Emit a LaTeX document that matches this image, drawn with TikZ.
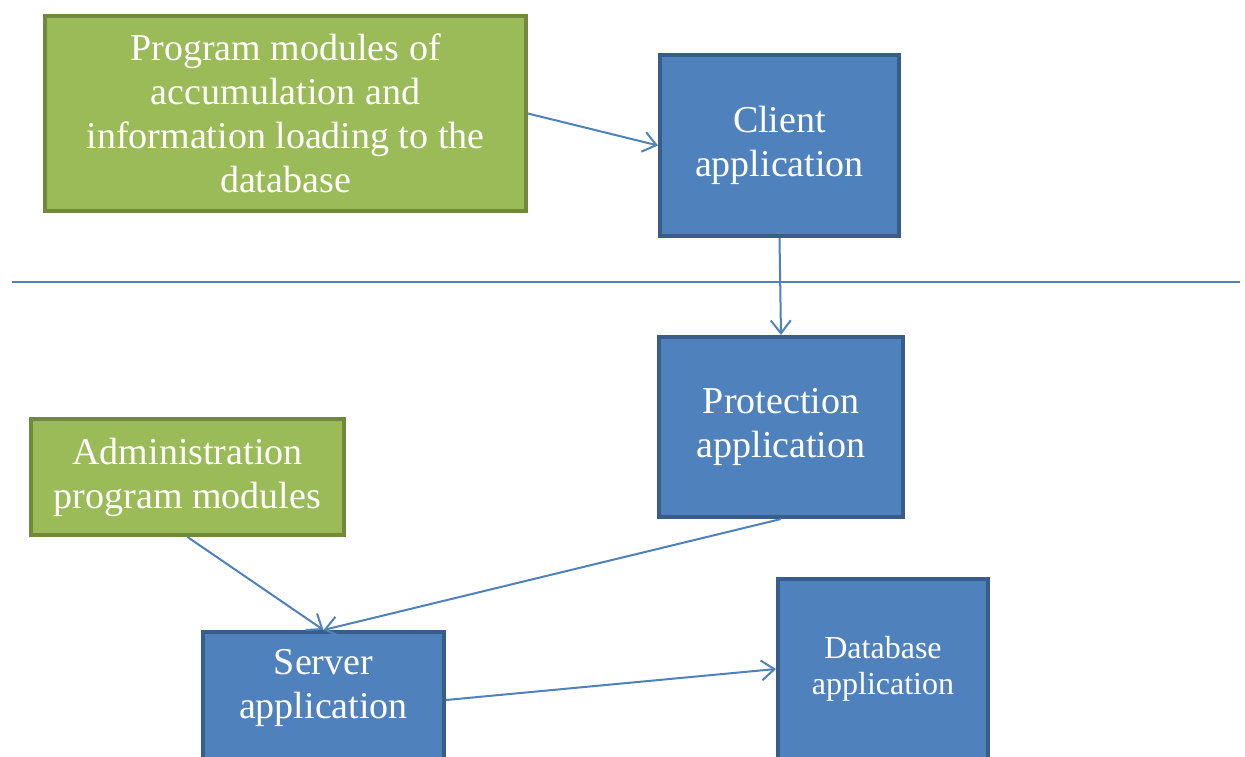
\documentclass[tikz,border=0pt]{standalone}
\usepackage{fontspec}
\setmainfont{Liberation Serif}
\usetikzlibrary{arrows.meta,calc}
\definecolor{bfill}{HTML}{4F81BD}
\definecolor{bline}{HTML}{385D8A}
\definecolor{gfill}{HTML}{9BBB59}
\definecolor{gline}{HTML}{71893F}
\tikzset{
  box/.style={draw, line width=4pt, rectangle, inner sep=0pt, text=white, align=center,
    font=\fontsize{38}{44}\selectfont},
  bluebox/.style={box, fill=bfill, draw=bline},
  greenbox/.style={box, fill=gfill, draw=gline},
  txt/.style={text=white, align=center, inner sep=0pt},
  conn/.style={draw=bfill, line width=2pt, -{Straight Barb[length=13pt,width=20pt,line width=2pt]}},
  sep/.style={draw=bfill, line width=1.8pt}
}
\begin{document}
\begin{tikzpicture}[x=1pt,y=-1pt]
\useasboundingbox (0,0) rectangle (1245,756);
\clip (0,0) rectangle (1245,756);
\fill[white] (0,0) rectangle (1245,756);

\node[greenbox, minimum width=481pt, minimum height=195pt] (acc) at (285.5,113.5)
  {Program modules of\\accumulation and\\information loading to the\\database};
\node[bluebox, minimum width=239pt, minimum height=181pt] (client) at (779.5,145.5)
  {Client\\application};

\coordinate (sepL) at (12,282);
\coordinate (sepR) at (1240,282);
\draw[sep] (sepL) -- (sepR);

\node[bluebox, minimum width=244pt, minimum height=180pt] (prot) at (781,427)
  {Protection\\application};
\node[greenbox, minimum width=313pt, minimum height=116pt] (admin) at (187.5,477)
  {Administration\\program modules};
\node[bluebox, minimum width=241pt, minimum height=130pt] (server) at (323.5,697) {};
\node[txt, font=\fontsize{38}{44}\selectfont] (servertxt) at (323.5,688) {Server\\application};
\node[bluebox, minimum width=210pt, minimum height=180pt,
  font=\fontsize{32}{36}\selectfont] (db) at (883,669) {Database\\application};

\draw[conn] (acc.east) -- (client.west);
\draw[conn] (client.south) -- (prot.north);
\draw[conn] (admin.south) -- (server.north);
\draw[conn] (prot.south) -- (server.north);
\draw[conn] ([yshift=-3pt]server.east) -- (db.west);
\end{tikzpicture}
\end{document}
